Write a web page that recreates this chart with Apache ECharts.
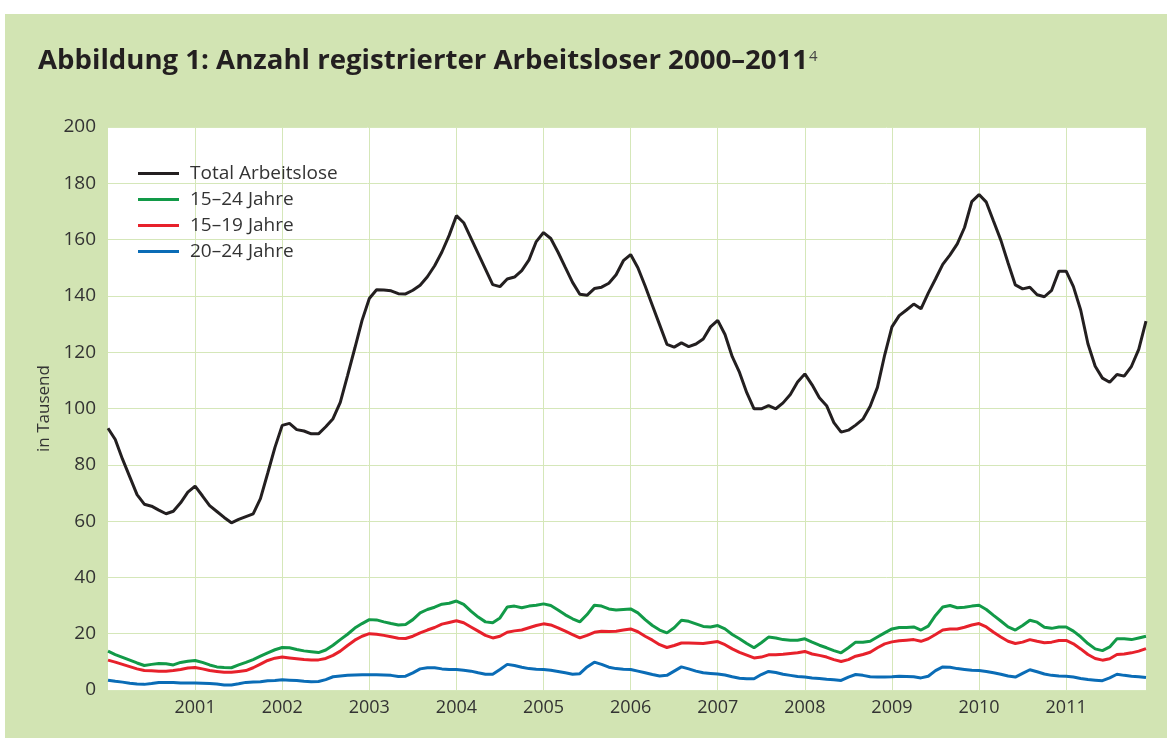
<!DOCTYPE html>
<html><head><meta charset="utf-8">
<script src="https://cdn.jsdelivr.net/npm/echarts@6/dist/echarts.min.js"></script>
<style>
html,body{margin:0;padding:0;background:#fff;width:1167px;height:738px;overflow:hidden}
#c{position:absolute;left:5px;top:14px;width:1162px;height:724px;background:#d2e4b3}
</style>
</head><body><div id="c"></div>
<script>
const years = ['2000','2001','2002','2003','2004','2005','2006','2007','2008','2009','2010','2011'];
const months = ['01','02','03','04','05','06','07','08','09','10','11','12'];
const seriesNames = ['Total Arbeitslose','15–24 Jahre','15–19 Jahre','20–24 Jahre'];
const yTicks = {min:0, max:200, interval:20};

const total = [
 93,89,82,75.7,69.4,66,65.3,63.9,62.6,63.5,66.5,70.3,
 72.4,69,65.5,63.4,61.3,59.4,60.6,61.6,62.6,68,77,86.2,
 94,94.7,92.5,92,91,91,93.5,96.4,102.2,111.7,121.4,131.3,
 139.1,142.2,142.1,141.8,140.8,140.7,142,143.8,146.8,150.7,155.6,161.5,
 168.5,166,160.5,155,149.5,144,143.3,146,146.7,149,152.8,159.3,
 162.5,160.4,155.5,150.1,144.8,140.6,140.2,142.6,143.1,144.5,147.5,152.5,
 154.7,150,143.5,136.6,129.7,122.8,121.8,123.3,122,122.9,124.7,129,
 131.3,126.3,118.4,112.8,105.6,99.9,99.9,101,99.9,102,105,109.4,
 112.3,108.4,103.8,101,95,91.6,92.3,94.1,96.2,100.8,107.5,119,
 129,133,135,137.1,135.4,141,146,151.2,154.6,158.5,164.3,173.5,
 176,173.3,166.5,159.8,151.7,143.9,142.5,143.1,140.4,139.7,142,148.8,
 148.8,143.3,135,123,115,110.8,109.3,112.1,111.5,115,121,131
];
const age1524 = [
 13.8,12.6,11.6,10.6,9.6,8.7,9.1,9.4,9.3,8.9,9.8,10.2,
 10.5,9.8,8.9,8.2,8.0,7.9,8.9,9.8,10.8,12.0,13.2,14.3,
 15.1,15.0,14.4,13.9,13.6,13.3,14.2,15.9,17.9,19.8,22.0,23.6,
 25.0,24.9,24.2,23.6,23.1,23.3,25.0,27.4,28.6,29.4,30.5,30.8,
 31.6,30.4,28.0,25.9,24.2,23.9,25.6,29.5,29.8,29.2,29.8,30.1,
 30.6,30.0,28.4,26.7,25.3,24.2,26.8,30.1,29.8,28.8,28.4,28.6,
 28.8,27.4,25.0,22.9,21.3,20.3,22.1,24.8,24.4,23.5,22.6,22.4,
 22.9,21.7,19.7,18.2,16.5,15.0,16.8,18.8,18.5,17.9,17.7,17.7,
 18.2,17.0,15.9,15.0,14.0,13.2,15.0,17.0,17.0,17.3,18.8,20.3,
 21.7,22.2,22.2,22.4,21.3,22.7,26.5,29.5,30.0,29.2,29.4,29.8,
 30.1,28.6,26.5,24.5,22.4,21.3,22.9,24.8,24.1,22.3,21.9,22.4,
 22.4,20.9,18.9,16.5,14.6,14.0,15.3,18.2,18.2,17.9,18.5,19.1
];
const age1519 = [
 10.6,9.9,9.1,8.3,7.5,6.9,6.8,6.7,6.7,6.9,7.3,7.8,
 8.0,7.5,6.9,6.6,6.3,6.3,6.6,6.9,7.9,9.2,10.5,11.3,
 11.7,11.4,11.1,10.8,10.7,10.7,11.2,12.3,13.8,15.8,17.7,19.1,
 20.0,19.8,19.4,18.9,18.4,18.3,19.1,20.3,21.3,22.2,23.4,24.0,
 24.6,23.9,22.4,20.9,19.4,18.5,19.1,20.5,21.0,21.3,22.1,22.9,
 23.5,23.1,22.1,20.9,19.7,18.5,19.4,20.5,20.9,20.8,20.9,21.3,
 21.7,20.7,19.1,17.7,16.1,15.1,15.8,16.7,16.7,16.6,16.5,16.9,
 17.2,16.1,14.6,13.4,12.4,11.4,11.7,12.5,12.5,12.7,13.0,13.2,
 13.7,12.8,12.3,11.7,10.8,10.1,10.8,12.0,12.6,13.4,15.0,16.4,
 17.1,17.5,17.7,17.9,17.3,18.2,19.7,21.3,21.7,21.7,22.3,23.1,
 23.6,22.4,20.5,18.8,17.3,16.5,17.0,17.9,17.3,16.8,17.0,17.6,
 17.6,16.4,14.6,12.6,11.2,10.6,11.1,12.6,12.8,13.2,13.8,14.7
];
const age2024 = [
 3.5,3.1,2.8,2.4,2.1,2.0,2.3,2.7,2.7,2.7,2.5,2.5,
 2.5,2.4,2.3,2.1,1.8,1.8,2.2,2.7,2.8,2.9,3.3,3.4,
 3.6,3.5,3.4,3.1,2.9,3.0,3.7,4.7,5.0,5.2,5.3,5.4,
 5.4,5.4,5.3,5.2,4.8,4.9,6.1,7.5,7.9,7.9,7.5,7.3,
 7.3,7.0,6.7,6.1,5.6,5.6,7.3,9.1,8.7,8.1,7.6,7.4,
 7.3,7.0,6.6,6.1,5.6,5.8,8.2,9.9,9.1,8.1,7.6,7.4,
 7.3,6.7,6.1,5.5,5.0,5.2,6.7,8.2,7.5,6.7,6.1,5.9,
 5.7,5.3,4.7,4.2,4.0,4.0,5.5,6.6,6.2,5.6,5.2,4.8,
 4.6,4.3,4.1,3.8,3.6,3.4,4.6,5.5,5.2,4.7,4.6,4.6,
 4.7,4.9,4.8,4.7,4.3,4.9,6.9,8.2,8.1,7.6,7.3,7.0,
 6.9,6.6,6.1,5.6,5.0,4.6,5.9,7.2,6.5,5.7,5.2,5.0,
 4.9,4.6,4.1,3.7,3.5,3.3,4.3,5.6,5.2,4.9,4.7,4.4
];
const colors = ['#231f20','#129a48','#e7212b','#0a6cb6'];

const categories = [];
years.forEach(y => months.forEach(m => categories.push(y + '-' + m)));
const yearStart = (i) => i % 12 === 0 && i > 0;

const txt = '#333333';
const font = 'Open Sans';
const gridColor = '#d5e7b9';

const chart = echarts.init(document.getElementById('c'), null, {renderer:'canvas'});
const seriesData = [total, age1524, age1519, age2024];
chart.setOption({
  animation: false,
  textStyle: {fontFamily: font},
  title: {
    left: 28, top: 25,
    text: '{a|Abbildung 1: Anzahl registrierter Arbeitsloser 2000–2011}{s|4}',
    textStyle: {
      rich: {
        a: {fontFamily: font, fontSize: 27.6, fontWeight: 'bold', color: '#231f20', lineHeight: 34},
        s: {fontFamily: font, fontSize: 15, fontWeight: 'normal', color: '#444', lineHeight: 34, padding: [0,0,9,1]}
      }
    }
  },
  legend: {
    orient: 'vertical', left: 128, top: 145,
    itemWidth: 41, itemHeight: 14, itemGap: 7,
    data: seriesNames.map((n, k) => ({name: n, icon: 'path://M0,6 L41,6 L41,9 L0,9 Z', itemStyle: {color: colors[k]}})),
    textStyle: {fontFamily: font, fontSize: 19, color: txt, lineHeight: 14, padding: [0,0,0,6]}
  },
  grid: {left: 103, top: 113, right: 21, bottom: 48, show: true, backgroundColor: '#ffffff', borderWidth: 0},
  xAxis: {
    type: 'category', data: categories, boundaryGap: false,
    axisLine: {show: false}, axisTick: {show: false},
    axisLabel: {interval: (i) => yearStart(i), formatter: (v) => v.slice(0,4), fontFamily: font, fontSize: 18, color: txt, margin: 9},
    splitLine: {show: true, interval: (i) => yearStart(i), lineStyle: {color: gridColor, width: 1}}
  },
  yAxis: {
    type: 'value', min: yTicks.min, max: yTicks.max, interval: yTicks.interval,
    name: 'in Tausend', nameLocation: 'middle', nameGap: 53, nameRotate: 90,
    nameTextStyle: {fontFamily: font, fontSize: 17, color: txt},
    axisLine: {show: false}, axisTick: {show: false},
    axisLabel: {fontFamily: font, fontSize: 19, color: txt, margin: 12},
    splitLine: {show: true, lineStyle: {color: gridColor, width: 1}}
  },
  series: seriesNames.map((n, k) => ({
    name: n, type: 'line', data: seriesData[k], showSymbol: false, symbol: 'none',
    lineStyle: {color: colors[k], width: 3}, itemStyle: {color: colors[k]},
    z: 10 - k
  }))
});
</script></body></html>
